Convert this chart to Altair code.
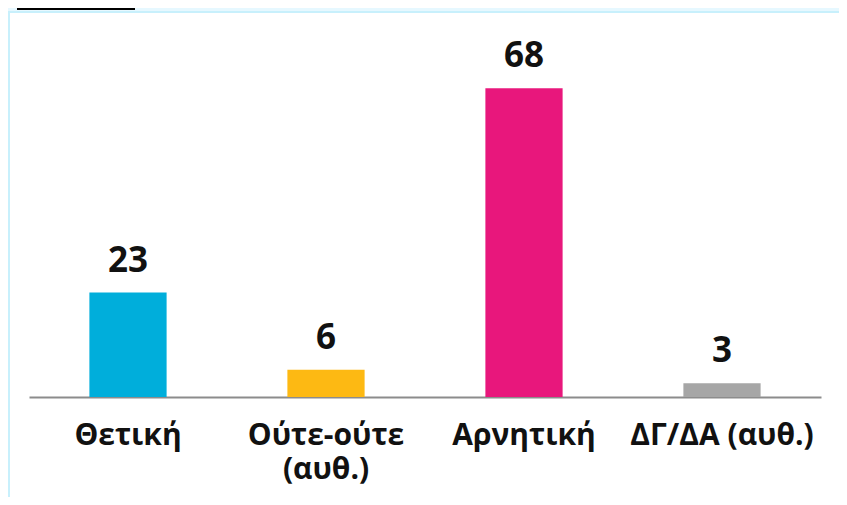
import altair as alt
import pandas as pd

categories = ["Θετική", "Ούτε-ούτε\n(αυθ.)", "Αρνητική", "ΔΓ/ΔΑ (αυθ.)"]
values = [23, 6, 68, 3]
colors = ["#00AEDB", "#FDB913", "#E8177C", "#A6A6A6"]

df = pd.DataFrame({"cat": categories, "val": values, "color": colors, "order": range(4)})

W, H = 792, 377
PL, PT, PR, PB = 21, 12, 18, 100

x = alt.X("cat:N", sort=categories, title=None,
          scale=alt.Scale(paddingInner=0.61, paddingOuter=0.305),
          axis=alt.Axis(labels=False, ticks=False, domain=True, domainColor="#8C8C8C",
                        domainWidth=2, grid=False))
y = alt.Y("val:Q", scale=alt.Scale(domain=[0, 83], nice=False), axis=None, title=None)

bars = alt.Chart(df).mark_bar().encode(x=x, y=y, color=alt.Color("color:N", scale=None))

vals = alt.Chart(df).mark_text(font="Open Sans", fontWeight="bold", fontSize=35,
                               baseline="bottom", dy=-14, color="#111111").encode(
    x=alt.X("cat:N", sort=categories), y="val:Q", text="val:Q")

labels = alt.Chart(df).mark_text(font="Open Sans", fontWeight="bold", fontSize=30,
                                 baseline="top", lineBreak="\n", lineHeight=34,
                                 color="#111111").encode(
    x=alt.X("cat:N", sort=categories), y=alt.value(H + 24), text="cat:N")

border_df = pd.DataFrame({"k": [0]})
top_band = alt.Chart(border_df).mark_rect(color="#E6F8FF").encode(
    x=alt.value(-PL), x2=alt.value(W + PR), y=alt.value(-PT), y2=alt.value(-PT + 3))
top_line = alt.Chart(border_df).mark_rect(color="#C8F0FC").encode(
    x=alt.value(-PL), x2=alt.value(W + PR), y=alt.value(-PT + 3), y2=alt.value(-PT + 5))
left_line = alt.Chart(border_df).mark_rect(color="#C8F0FC").encode(
    x=alt.value(-PL), x2=alt.value(-PL + 2), y=alt.value(-PT + 3), y2=alt.value(H + PB))
black_bar = alt.Chart(border_df).mark_rect(color="#000000").encode(
    x=alt.value(-PL + 9), x2=alt.value(-PL + 127), y=alt.value(-PT), y2=alt.value(-PT + 2))

chart = alt.layer(top_band, top_line, left_line, black_bar, bars, vals, labels).properties(
    width=W, height=H,
    autosize=alt.AutoSizeParams(type="none"),
    padding={"left": PL, "top": PT, "right": PR, "bottom": PB},
).configure(background="white").configure_view(stroke=None, strokeWidth=0)

chart.save("out.html", embed_options={"renderer": "svg", "actions": False})
